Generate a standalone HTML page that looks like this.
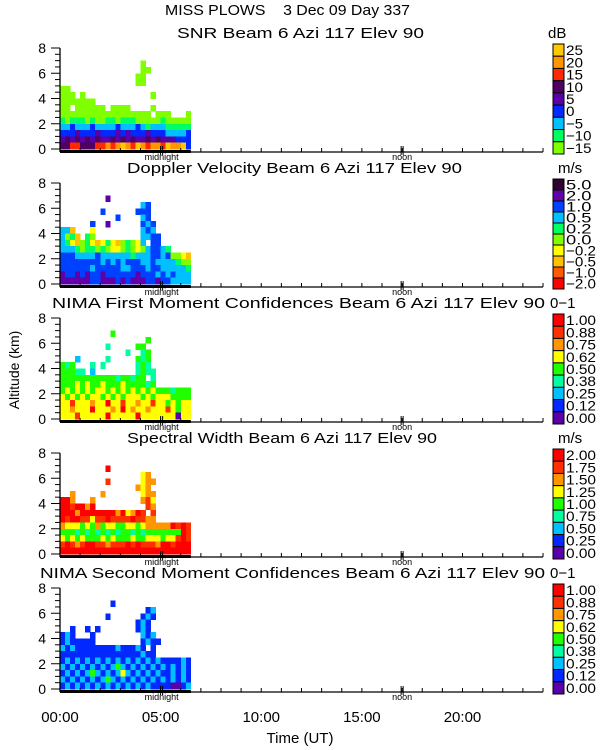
<!DOCTYPE html>
<html><head><meta charset="utf-8"><style>
html,body{margin:0;padding:0;background:#fff;}
svg{display:block;font-family:"Liberation Sans",sans-serif;}
</style></head><body>
<svg id="chart" width="600" height="750" viewBox="0 0 600 750" xmlns="http://www.w3.org/2000/svg">
<text x="165" y="15" font-size="15" textLength="245" lengthAdjust="spacingAndGlyphs" style="white-space:pre">MISS PLOWS    3 Dec 09 Day 337</text>
<text transform="translate(19,370) rotate(-90)" font-size="14" text-anchor="middle">Altitude (km)</text>
<text x="300" y="743" font-size="15" text-anchor="middle">Time (UT)</text>
<g id="panels"></g>
</svg>
<script>
// ---- data ----
const timeTicks = ["00:00","05:00","10:00","15:00","20:00"];
const timeTickHours = [0,5,10,15,20];
const altTicks = [0,2,4,6,8];
const panelTitles = ["SNR Beam 6 Azi 117 Elev 90","Doppler Velocity Beam 6 Azi 117 Elev 90","NIMA First Moment Confidences Beam 6 Azi 117 Elev 90","Spectral Width Beam 6 Azi 117 Elev 90","NIMA Second Moment Confidences Beam 6 Azi 117 Elev 90"];
const panelUnits = ["dB","m/s","0\u22121","m/s","0\u22121"];
const snrLabels = ["25","20","15","10","5","0","\u22125","\u221210","\u221215"];
const velLabels = ["5.0","2.0","1.0","0.5","0.2","0.0","\u22120.2","\u22120.5","\u22121.0","\u22122.0"];
const confLabels = ["1.00","0.88","0.75","0.62","0.50","0.38","0.25","0.12","0.00"];
const widthLabels = ["2.00","1.75","1.50","1.25","1.00","0.75","0.50","0.25","0.00"];
// palettes (bottom -> top)
const snrColors = ["#80ff00","#00ff60","#00c0ff","#0028ff","#5a00a8","#500060","#ff2800","#ff9600","#ffc800"];
const velColors = ["#ff0000","#ff5a00","#ffc000","#ffff00","#80ff00","#00ff60","#00c0ff","#0040ff","#6000a8","#300030"];
const confColors = ["#5a00a8","#0028ff","#00c0ff","#00ffa0","#20ff00","#ffff00","#ff9600","#ff3000","#ff0000"];
// gridded observations: rows top (6.5-7 km) to bottom (0-0.5 km), cols 0.25 h each
const snrGrid = [
"................0",
"................00",
"...............00",
"...............00",
"00",
"000.0.............0",
"0000000",
"00.000000.0000....0",
"000000000000000000.000...0",
"10111010011011100000100000",
"22322232222322232122211111",
"33343334333434333433322223",
"45454545445454544545444333",
"55665556676787687677687783"];
const velGrid = [
".........8",
"................67",
"........7......777",
"...........7....67",
"......7..8......767",
"662...3.........676",
"6452.54.........6677",
"65324532353245436.77",
"6665455454334543467765",
"77766667666666566677674432",
"77777777676767776676666544",
"77777767777766777677666665",
"87787877877777787776767666",
"88888877888787888778776666"];
const conf1Grid = [
"..........4",
".................4",
".........3.....44",
".............3..34",
"...2.....3.....434",
"434...3.3......343",
"44433.2........3433",
"44444444444344344.3",
"4445454454445444434",
"45454545545454545454443444",
"54545455454545554545554444",
"55755565585575565575545455",
"55655585556585655655575455",
"55575555585555585555555055"];
const widthGrid = [
".........8",
"................56",
".........7......566",
"...............656",
"..6.....6.......566",
"886...6.........675",
"8878868..........76",
"88868888888685687.7",
"8788775778777787766",
"65554546455445545666668787",
"44434343434344343444444487",
"54545444545444544555455787",
"78767887767778787776887888",
"88888888888888888888888888"];
const conf2Grid = [
"..........1",
".................12",
".........1......121",
"...............121",
"..1..1.1.......121",
"121...1.........212",
"1211111.........1211",
"21211111111211121.1",
"1111111111111111211",
"12121212121212121212111121",
"21212121212421212121212121",
"12121242121252121212112121",
"21212121242121212121212121",
"12121212121212121211110012"];

const grids = [snrGrid, velGrid, conf1Grid, widthGrid, conf2Grid];
const palettes = [snrColors, velColors, confColors, confColors, confColors];
const cbLabels = [snrLabels, velLabels, confLabels, widthLabels, confLabels];
const titleSpans = [[177,247],[127,335],[52,493],[127,310],[40,505]];

// ---- layout/axes ----
const X0 = 60, X1 = 543, HOURS = 24;
const xScale = h => X0 + (X1 - X0) * h / HOURS;
const PANEL_DY = 135;
const yBase = k => 149 + PANEL_DY * k;
const yScale = (k, km) => yBase(k) - km * 101 / 8;
const NS = "http://www.w3.org/2000/svg";
const root = document.getElementById("panels");
function mk(tag, attrs, parent) {
  const e = document.createElementNS(NS, tag);
  for (const a in attrs) e.setAttribute(a, attrs[a]);
  (parent || root).appendChild(e);
  return e;
}

for (let k = 0; k < 5; k++) {
  const g = mk("g", {});
  
  
  const sp = titleSpans[k];
  const t = mk("text", {x: sp[0], y: 38 + PANEL_DY * k, "font-size": 15, textLength: sp[1], lengthAdjust: "spacingAndGlyphs"}, g);
  t.textContent = panelTitles[k];
  
  
  const u = mk("text", {x: panelUnits[k] === "dB" ? 548 : (panelUnits[k] === "m/s" ? 558 : 550), y: 38 + PANEL_DY * k, "font-size": 15}, g);
  u.textContent = panelUnits[k];
  
  

  const grid = grids[k], pal = palettes[k];
  const nRows = grid.length;
  const cells = mk("g", {"shape-rendering": "crispEdges"}, g);
  
  
  for (let r = 0; r < nRows; r++) {
    const kmLo = (nRows - 1 - r) * 0.5, kmHi = kmLo + 0.5;
    const row = grid[r];
    for (let c = 0; c < row.length; c++) {
      const ch = row[c];
      if (ch === ".") continue;
      const x0 = xScale(c * 0.25), x1 = xScale((c + 1) * 0.25);
      const y0 = yScale(k, kmHi), y1 = yScale(k, kmLo);
      const cell = mk("rect", {x: x0.toFixed(2), y: y0.toFixed(2), width: (x1 - x0 + 0.3).toFixed(2), height: (y1 - y0 + 0.3).toFixed(2), fill: pal[+ch]}, cells);
      
      
    }
  }

  const yb = yBase(k);
  const yAxis = mk("line", {x1: X0, y1: yScale(k, 8), x2: X0, y2: yb + 3, stroke: "#000", "stroke-width": 1.3}, g);
  
  
  for (let km = 0; km <= 8; km += 0.5) {
    const y = yScale(k, km);
    const major = km % 2 === 0;
    mk("line", {x1: X0 - (major ? 9 : 5), y1: y, x2: X0, y2: y, stroke: "#000", "stroke-width": 1}, g);
  }
  altTicks.forEach(v => {
    const tl = mk("text", {x: 46, y: yScale(k, v) + 5, "font-size": 14, "text-anchor": "end"}, g);
    tl.textContent = v;
    
    
  });
  const xAxis = mk("line", {x1: X0, y1: yb + 3, x2: X1, y2: yb + 3, stroke: "#000", "stroke-width": 1.3}, g);
  
  
  for (let h = 0; h <= 24; h++) {
    mk("line", {x1: xScale(h), y1: yb + 3, x2: xScale(h), y2: yb - 1, stroke: "#000", "stroke-width": 1}, g);
  }
  const bar = mk("rect", {x: X0, y: yb + 1, width: xScale(6.5) - X0, height: 3, fill: "#000"}, g);
  
  
  [[5.05, "midnight"], [17.0, "noon"]].forEach(m => {
    const mx = xScale(m[0]);
    mk("line", {x1: mx - 1, y1: yb - 3, x2: mx - 1, y2: yb + 6, stroke: "#000"}, g);
    mk("line", {x1: mx + 1, y1: yb - 3, x2: mx + 1, y2: yb + 6, stroke: "#000"}, g);
    const ml = mk("text", {x: mx, y: yb + 11, "font-size": 9, "text-anchor": "middle"}, g);
    ml.textContent = m[1];
    
    
  });

  const labels = cbLabels[k], n = labels.length;
  const cbTop = 44 + PANEL_DY * k, cbH = 110, bh = cbH / n;
  for (let i = 0; i < n; i++) {
    const col = pal[n - 1 - i];
    const box = mk("rect", {x: 553, y: (cbTop + i * bh).toFixed(2), width: 11, height: bh.toFixed(2), fill: col, stroke: "#000", "stroke-width": 1}, g);
    
    
    const cl = mk("text", {x: 566, y: (cbTop + i * bh + bh / 2 + 5).toFixed(2), "font-size": 14, textLength: labels[i].length > 3 ? 30 : (labels[i].length * 8.5), lengthAdjust: "spacingAndGlyphs"}, g);
    cl.textContent = labels[i];
    
    
  }
}
timeTicks.forEach((lab, i) => {
  const tx = mk("text", {x: xScale(timeTickHours[i]), y: 722, "font-size": 15, "text-anchor": "middle"});
  tx.textContent = lab;
  
  
});
</script>
</body></html>
